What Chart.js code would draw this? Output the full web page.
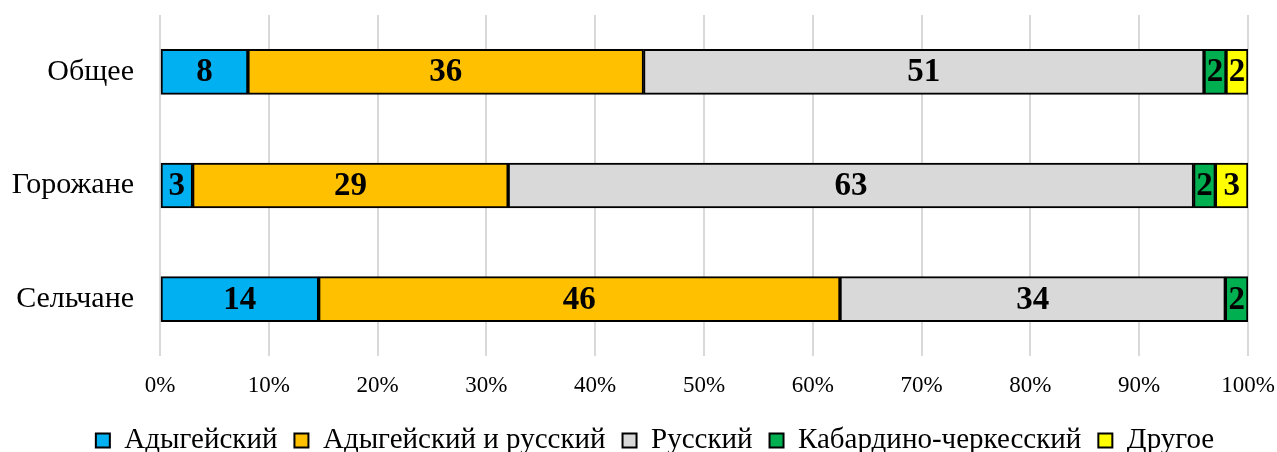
<!DOCTYPE html>
<html>
<head>
<meta charset="utf-8">
<script src="https://cdn.jsdelivr.net/npm/chart.js@4/dist/chart.umd.min.js"></script>
<style>
  body { margin: 0; background: #fff; }
  #wrap { width: 1277px; height: 452px; }
</style>
</head>
<body>
<div id="wrap"><canvas id="langChart"></canvas></div>
<script>
const categories = ['Общее', 'Горожане', 'Сельчане']
const seriesNames = ['Адыгейский', 'Адыгейский и русский', 'Русский', 'Кабардино-черкесский', 'Другое']
const adyghe = [8, 3, 14]
const adygheRussian = [36, 29, 46]
const russian = [51, 63, 34]
const kabardian = [2, 2, 2]
const other = [2, 3, 0]
const xTicks = [0, 10, 20, 30, 40, 50, 60, 70, 80, 90, 100]

const colors = ['#00B0F0', '#FFC000', '#D9D9D9', '#00B050', '#FFFF00']
const seriesValues = [adyghe, adygheRussian, russian, kabardian, other]

// 100% stacked: each row is scaled to its own total
const rowTotals = categories.map((c, i) => seriesValues.reduce((s, arr) => s + arr[i], 0))

const serif = "'Liberation Serif', 'Times New Roman', serif"

const barLabels = {
    id: 'barLabels',
    afterLayout(chart) {
        // legend in the original sits a bit right of centre
        chart.legend.left += 31
        chart.legend.right += 31
    },
    afterDatasetsDraw(chart) {
        const ctx = chart.ctx
        ctx.save()
        ctx.font = 'bold 33px ' + serif
        ctx.fillStyle = '#000'
        ctx.textAlign = 'center'
        ctx.textBaseline = 'middle'
        chart.data.datasets.forEach((ds, di) => {
            chart.getDatasetMeta(di).data.forEach((bar, i) => {
                const raw = ds.rawValues[i]
                if (!raw) return
                const p = bar.getCenterPoint()
                ctx.fillText(raw, p.x, p.y + 1)
            })
        })
        ctx.restore()
    }
}

new Chart(document.getElementById('langChart'), {
    type: 'bar',
    data: {
        labels: categories,
        datasets: seriesValues.map((vals, k) => ({
            label: seriesNames[k],
            data: vals.map((v, i) => v / rowTotals[i] * 100),
            rawValues: vals,
            backgroundColor: colors[k],
            borderColor: '#000',
            borderWidth: 2,
            borderSkipped: false,
            barThickness: 45
        }))
    },
    options: {
        indexAxis: 'y',
        responsive: true,
        maintainAspectRatio: false,
        animation: false,
        layout: { padding: { top: 15, right: 29, left: 0, bottom: -13 } },
        plugins: {
            legend: {
                position: 'bottom',
                labels: {
                    font: { family: serif, size: 29 },
                    color: '#000',
                    boxWidth: 14,
                    boxHeight: 14,
                    padding: 17
                }
            },
            tooltip: { enabled: false }
        },
        scales: {
            x: {
                stacked: true,
                min: 0,
                max: 100,
                afterBuildTicks: (scale) => { scale.ticks = xTicks.map(v => ({ value: v })) },
                afterFit: (scale) => {
                    scale.height = 53
                    scale.paddingLeft = 0
                    scale.paddingRight = 0
                },
                ticks: {
                    callback: (v) => v + '%',
                    font: { family: serif, size: 23 },
                    color: '#000',
                    padding: 16
                },
                grid: { color: '#D9D9D9', lineWidth: 2, drawTicks: false },
                border: { display: false }
            },
            y: {
                stacked: true,
                afterFit: (scale) => {
                    scale.width = 160
                    scale.paddingTop = 0
                    scale.paddingBottom = 0
                },
                ticks: {
                    font: { family: serif, size: 30 },
                    color: '#000',
                    padding: 26
                },
                grid: { display: false, drawTicks: false },
                border: { display: false }
            }
        }
    },
    plugins: [barLabels]
})
</script>
</body>
</html>
